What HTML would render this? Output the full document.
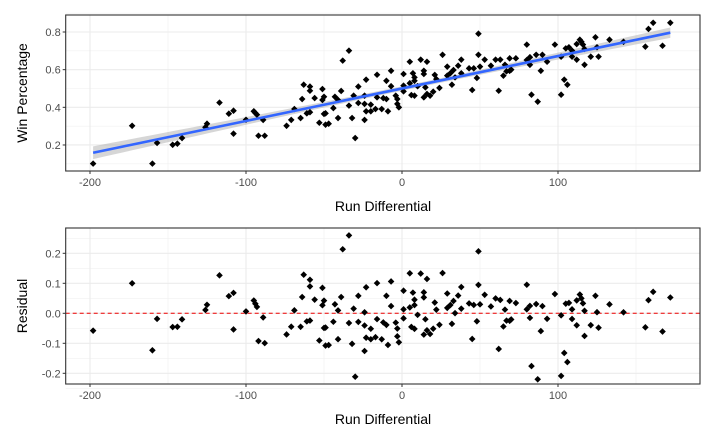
<!DOCTYPE html>
<html><head><meta charset="utf-8"><style>
html,body{margin:0;padding:0;background:#fff;width:716px;height:442px;overflow:hidden}
svg{display:block;font-family:"Liberation Sans",Arial,sans-serif}
</style></head><body>
<svg id="c" width="716" height="442"></svg>
<script>
// pixel-derived readings converted to data below
const rawPx = [[93.7,163.7],[132.7,125.7],[153,163.7],[157,143],[172.7,144.7],[177.7,143.7],[181.7,138],[205.7,127.3],[207,123.7],[220,102.7],[228.7,113.7],[233.7,110.7],[233.7,133.7],[246,119.7],[253.7,111.3],[255.7,113],[257.3,114.7],[263.7,120],[259,135.7],[265,135.7],
[286.7,125.7],[291.7,120],[294.3,109],[300.7,118],[302.7,99],[303.7,84.7],[307.3,113.3],[309.3,86.7],[310,90.7],[310.7,112.3],[314.7,98],[320,122.7],[321.7,100],[322.7,89],[324,96.7],[324,114],[326,113.3],[326,124.7],[329,123.7],[333.7,108],[335,96.7],[337.7,100],[338,118],[341.7,91],[342.7,60.7],[348.7,50.7],[348.7,105.7],[351.7,118],[353.7,95.7],[355.7,138],[358.7,86.7],[358.7,103],[364.3,120],[365,95.7],[365,104],[365.7,79.7],[366,111.3],[370.7,104.7],[370.7,111.3],[376,109],[376.7,74.7],[376.7,97.3],[382,109],[384,98],[386.7,80.7],[386.7,99],[388,111.3],[390.7,86.3],[390.7,70.7],[395.3,95.7],[397.3,99],[398,104],[398.7,107.3],[403.3,91.3],[404,74],[404,85.7],[409.3,83.3],[410,61.7],[411,95],[412.7,73.3],[414.3,80.7],[415,77.3],[415,95.7],[418.3,86.3],[420.7,59.7],[423.3,70.7],[423.3,74],[423.3,97.3],[425,87.3],[426.7,61.7],[426.7,94],[429.3,95.7],[433.3,91.7],[435,75],[436.7,79],[439.3,88],[443.3,54.7],[447.3,75.7],[447.7,66.7],[450,73.3],[451.7,84.7],[454,70],[455.7,77.3],[458.3,65.7],[461.7,59.7],[462,73.3],[468.3,68.3],[472.7,90],[473.3,68.3],[476.7,78],[478.7,33.7],[478.7,54.7],[479.3,66.7],[485,59.7],
[491,65.7],[495.7,59.7],[499,90.7],[501,59.7],[504,75.7],[505,64.7],[506.7,71.3],[509.3,70.7],[510,58.3],[511.7,69.7],[516,58.3],[526.7,44.7],[526.7,60],[529.3,57.3],[530,64.7],[531.7,94.7],[536.7,54.7],[537,101.7],[540.7,70.7],[542.7,54.7],[546.7,61.7],[555,44.7],[560.7,94.7],[561,56.7],[564.7,79.7],[565.3,48.3],[567.7,84.7],[568.7,47.3],[571.7,56.7],[572.3,50.7],[576.7,44],[576.7,59.7],[579.3,39.7],[581.3,41.7],[582.7,44.7],[585,64.7],[585.3,49],[591,56.7],[596,37.3],[596.7,47.3],[598.7,56.7],[610,39.7],[623.3,41.7],[645.7,46.7],[648.7,29],[653.7,22.7],[662.7,45.7],[670.7,22.7]];
const runDiff = rawPx.map(p=>Math.round((p[0]-402)/1.56));
const winPct = rawPx.map(p=>Math.round((0.8-(p[1]-32)/188.3)*1000)/1000);
const xTicks=[-200,-100,0,100];
const yTicksTop=[0.2,0.4,0.6,0.8];
const yTicksBot=[-0.2,-0.1,0.0,0.1,0.2];

const NS="http://www.w3.org/2000/svg", svg=document.getElementById('c');
function el(t,a,p){const e=document.createElementNS(NS,t);for(const k in a)e.setAttribute(k,a[k]);(p||svg).appendChild(e);return e;}
const L=65.7,R=700;
const xs=v=>402+v*1.56;
const yTop=v=>32+(0.8-v)*188.3;
const yBot=v=>313.3-v*300;

// regression
const n=runDiff.length;
const mx=runDiff.reduce((a,b)=>a+b,0)/n,my=winPct.reduce((a,b)=>a+b,0)/n;
let sxx=0,sxy=0;for(let i=0;i<n;i++){sxx+=(runDiff[i]-mx)**2;sxy+=(runDiff[i]-mx)*(winPct[i]-my);}
const b=sxy/sxx,a=my-b*mx;
const resid=runDiff.map((x,i)=>winPct[i]-(a+b*x));
const s=Math.sqrt(resid.reduce((q,r)=>q+r*r,0)/(n-2));

function panel(T,B,ys,yt,ticks,name){
  const g=el('g',{});  
  el('rect',{x:L,y:T,width:R-L,height:B-T,fill:'#fff'},g);
  const minor=[-150,-50,50,150];
  minor.forEach(v=>el('line',{x1:xs(v),x2:xs(v),y1:T,y2:B,stroke:'#f0f0f0','stroke-width':0.6},g));
  for(let i=0;i<ticks.length-1;i++){const m=(ticks[i]+ticks[i+1])/2;el('line',{x1:L,x2:R,y1:ys(m),y2:ys(m),stroke:'#f0f0f0','stroke-width':0.6},g);}
  el('line',{x1:L,x2:R,y1:ys(ticks[0]-(ticks[1]-ticks[0])/2),y2:ys(ticks[0]-(ticks[1]-ticks[0])/2),stroke:'#f0f0f0','stroke-width':0.6},g);
  el('line',{x1:L,x2:R,y1:ys(ticks[ticks.length-1]+(ticks[1]-ticks[0])/2),y2:ys(ticks[ticks.length-1]+(ticks[1]-ticks[0])/2),stroke:'#f0f0f0','stroke-width':0.6},g);
  xTicks.forEach(v=>{el('line',{x1:xs(v),x2:xs(v),y1:T,y2:B,stroke:'#ebebeb','stroke-width':1.1},g);
    el('line',{x1:xs(v),x2:xs(v),y1:B,y2:B+3,stroke:'#333'},g);
    const t=el('text',{x:xs(v),y:B+15,'text-anchor':'middle','font-size':11,fill:'#4d4d4d'},g);t.textContent=v;});
  ticks.forEach(v=>{el('line',{x1:L,x2:R,y1:ys(v),y2:ys(v),stroke:'#ebebeb','stroke-width':1.1},g);
    el('line',{x1:L-3,x2:L,y1:ys(v),y2:ys(v),stroke:'#333'},g);
    const t=el('text',{x:L-5,y:ys(v)+4,'text-anchor':'end','font-size':11,fill:'#4d4d4d'},g);t.textContent=yt(v);});
  return g;
}
// top
const gt=panel(15,171,yTop,v=>v.toFixed(1),yTicksTop,'win-pct-panel');
const xmin=Math.min(...runDiff),xmax=Math.max(...runDiff);
let up=[],lo=[],ln=[];
for(let k=0;k<=60;k++){const x=xmin+(xmax-xmin)*k/60,y=a+b*x,se=1.97*s*Math.sqrt(1/n+(x-mx)**2/sxx);
  up.push(xs(x)+','+yTop(y+se));lo.unshift(xs(x)+','+yTop(y-se));ln.push(xs(x)+','+yTop(y));}
const band=el('polygon',{points:up.concat(lo).join(' '),fill:'#999','fill-opacity':0.4},gt);

runDiff.forEach((x,i)=>{const X=xs(x),Y=yTop(winPct[i]);
  const p=el('polygon',{points:`${X},${Y-3.3} ${X+3.3},${Y} ${X},${Y+3.3} ${X-3.3},${Y}`,fill:'#000'},gt);
  });
const fl=el('polyline',{points:ln.join(' '),fill:'none',stroke:'#3366ff','stroke-width':2.6},gt);

el('rect',{x:L,y:15,width:R-L,height:156,fill:'none',stroke:'#333','stroke-width':1.1},gt);
// bottom
const gb=panel(228,384,yBot,v=>v.toFixed(1),yTicksBot,'residual-panel');
const zl=el('line',{x1:L,x2:R,y1:yBot(0),y2:yBot(0),stroke:'#e00','stroke-width':1,'stroke-dasharray':'4,3'},gb);

runDiff.forEach((x,i)=>{const X=xs(x),Y=yBot(resid[i]);
  const p=el('polygon',{points:`${X},${Y-3.3} ${X+3.3},${Y} ${X},${Y+3.3} ${X-3.3},${Y}`,fill:'#000'},gb);
  });
el('rect',{x:L,y:228,width:R-L,height:156,fill:'none',stroke:'#333','stroke-width':1.1},gb);
function title(txt,x,y,rot,name){const t=el('text',{x:x,y:y,'text-anchor':'middle','font-size':14,fill:'#000'});
  if(rot)t.setAttribute('transform',`rotate(-90 ${x} ${y})`);t.textContent=txt;
  }
title('Run Differential',383,211,false,'x-axis-title-top');
title('Win Percentage',27,93,true,'y-axis-title-top');
title('Run Differential',383,424,false,'x-axis-title-bottom');
title('Residual',27,306,true,'y-axis-title-bottom');
</script>
</body></html>
